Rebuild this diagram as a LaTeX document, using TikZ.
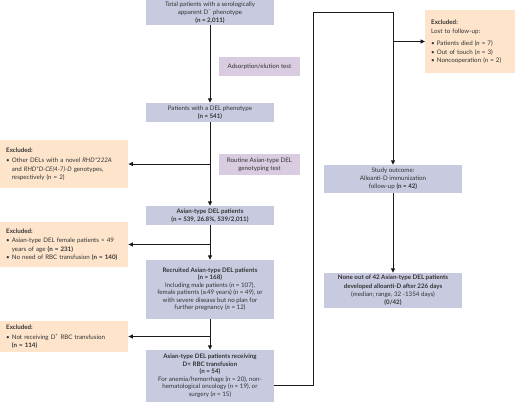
\documentclass[tikz,border=0pt]{standalone}
\usepackage{fontspec}
\setmainfont{Lato}
\newfontfamily\djv{DejaVu Sans}
\usetikzlibrary{arrows.meta,calc}
\definecolor{mainbox}{HTML}{C8CAE0}
\definecolor{sidebox}{HTML}{D9CCE1}
\definecolor{exbox}{HTML}{FDE4CB}
\definecolor{txt}{HTML}{333333}
\definecolor{ln}{HTML}{1A1A1A}
\newcommand{\nn}{\textit{n}}
\newcommand{\bul}{\textbullet\ }
\newcommand{\hng}{\phantom{\textbullet\ }}
\newcommand{\geqs}{{\djv\fontsize{5.5}{6}\selectfont ≥}}
\begin{document}
\begin{tikzpicture}[x=1pt,y=-1pt,
  font=\fontsize{6.2}{7.8}\selectfont, text=txt,
  mainb/.style={fill=mainbox, draw=none, align=center, inner sep=1pt, minimum width=128pt},
  sideb/.style={fill=sidebox, draw=none, align=center, inner sep=1pt, minimum width=81pt},
  exb/.style={fill=exbox, draw=none, align=left, anchor=north west, inner xsep=6pt, inner ysep=3pt,
     font=\fontsize{6.2}{8.6}\selectfont},
  arr/.style={draw=ln, line width=0.9pt, -{Triangle[length=4.5pt,width=4pt]}},
  ln/.style={draw=ln, line width=0.9pt}]
\useasboundingbox (0,0) rectangle (520,404);

% main column
\node[mainb, minimum height=25pt] (top) at (210,12.5)
  {Total patients with a serologically\\apparent D\textsuperscript{–} phenotype\\\textbf{(n = 2,011)}};
\node[mainb, minimum height=19pt] (del) at (210,112.5)
  {Patients with a DEL phenotype\\\textbf{(n = 541)}};
\node[mainb, minimum height=19pt] (asian) at (210,215.5)
  {\textbf{Asian-type DEL patients}\\\textbf{(n = 539, 26.8\%, 539/2,011)}};
\node[mainb, minimum height=59pt, font=\fontsize{6.2}{7.5}\selectfont] (rec) at (210,289.5)
  {\textbf{Recruited Asian-type DEL patients}\\\textbf{(n = 168)}\\Including male patients (\nn{} = 107),\\female patients (\geqs49 years) (\nn{} = 49), or\\with severe disease but no plan for\\further pregnancy (\nn{} = 12)};
\node[mainb, minimum height=52pt, font=\fontsize{6.2}{7.5}\selectfont] (rcv) at (210,376)
  {\textbf{Asian-type DEL patients receiving}\\\textbf{D+ RBC transfusion}\\\textbf{(n = 54)}\\For anemia/hemorrhage (\nn{} = 20), non-\\hematological oncology (\nn{} = 19), or\\surgery (\nn{} = 15)};

% side labels
\node[sideb, minimum height=19pt] (ads) at (259.5,66.5) {Adsorption/elution test};
\node[sideb, minimum height=21pt] (rout) at (259.5,164.5) {Routine Asian-type DEL\\genotyping test};

% right column
\node[mainb, minimum width=138pt, minimum height=28pt] (study) at (393,179)
  {Study outcome:\\Alloanti-D immunization\\follow-up \textbf{(n = 42)}};
\node[mainb, minimum width=138pt, minimum height=35pt, font=\fontsize{6.2}{8.4}\selectfont] (res) at (393,290.5)
  {\textbf{None out of 42 Asian-type DEL patients}\\\textbf{developed alloanti-D after 226 days}\\(median; range, 32 -1354 days)\\\textbf{(0/42)}};

% excluded boxes
\node[exb, text width=116pt, minimum height=48pt] (ex1) at (0,140)
  {\textbf{Excluded:}\\[2pt]\bul Other DELs with a novel \textit{RHD*222A}\\\hng and \textit{RHD*D-CE(4-7)-D} genotypes,\\\hng respectively (\nn{} = 2)};
\node[exb, text width=116pt, minimum height=45pt] (ex2) at (0,222)
  {\textbf{Excluded:}\\[1pt]\bul Asian-type DEL female patients \textless{} 49\\\hng years of age \textbf{(n = 231)}\\\bul No need of RBC transfusion \textbf{(n = 140)}};
\node[exb, text width=116pt, minimum height=31pt, font=\fontsize{6.2}{7.6}\selectfont] (ex3) at (0,321)
  {\textbf{Excluded:}\\[2pt]\bul Not receiving D\textsuperscript{+} RBC transfusion\\\hng\textbf{(n = 114)}};
\node[exb, text width=78pt, minimum height=63pt] (ex4) at (425,10)
  {\textbf{Excluded:}\\[1pt]Lost to follow-up:\\[3pt]\bul Patients died (\nn{} = 7)\\\bul Out of touch (\nn{} = 3)\\\bul Noncooperation (\nn{} = 2)};

% junctions
\coordinate (j1) at (210,164);
\coordinate (j2) at (210,244.5);
\coordinate (j3) at (210,336.5);
\coordinate (c1) at (313,385);
\coordinate (c2) at (313,12);
\coordinate (c3) at (393,12);
\coordinate (j4) at (393,41.5);

% connectors
\draw[arr] (top) -- (del);
\draw[arr] (del) -- (asian);
\draw[arr] (asian) -- (rec);
\draw[arr] (rec) -- (rcv);
\draw[arr] (j1) -- (j1 -| ex1.east);
\draw[arr] (j2) -- (j2 -| ex2.east);
\draw[arr] (j3) -- (j3 -| ex3.east);
\draw[arr] (rcv.east |- c1) -- (c1) -- (c2) -- (c3) -- (study.north);
\draw[arr] (j4) -- (j4 -| ex4.west);
\draw[arr] (study) -- (res);
\end{tikzpicture}
\end{document}
